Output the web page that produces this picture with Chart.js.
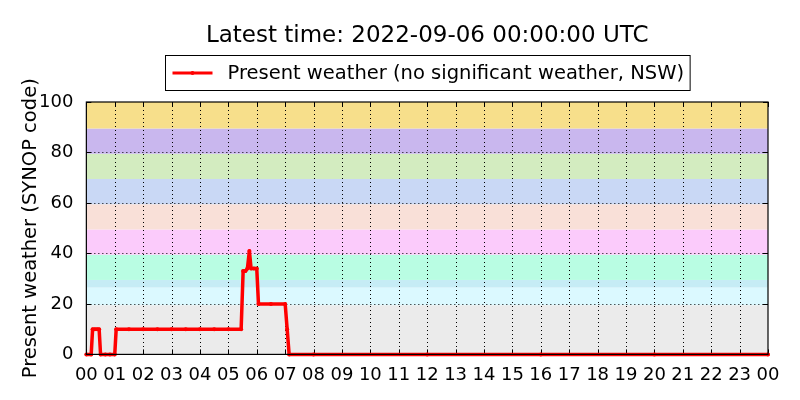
<!DOCTYPE html>
<html>
<head>
<meta charset="utf-8">
<script src="https://cdn.jsdelivr.net/npm/chart.js@4.4.0/dist/chart.umd.min.js"></script>
<style>
  html, body { margin: 0; padding: 0; background: #fff; }
  #wrap { width: 800px; height: 400px; }
</style>
</head>
<body>
<div id="wrap"><canvas id="chart1"></canvas></div>
<script>
"use strict";

// observation times (hours since 00 UTC) and SYNOP ww codes
var hours = [0, 0.17, 0.22, 0.3, 0.38, 0.45, 0.5, 0.67, 0.83, 1.0, 1.05, 1.5, 2.0, 2.5, 3.0, 3.5, 4.0, 4.5, 5.0, 5.45, 5.52, 5.6, 5.67, 5.74, 5.8, 5.9, 6.0, 6.06, 6.5, 7.0, 7.07, 7.14, 8.0, 12.0, 16.0, 20.0, 24.0];
var codes = [0, 0, 10, 10, 10, 10, 0, 0, 0, 0, 10, 10, 10, 10, 10, 10, 10, 10, 10, 10, 33, 33, 34, 41, 34, 34, 34, 20, 20, 20, 10, 0, 0, 0, 0, 0, 0];

// y ticks
var yTicks = [0, 20, 40, 60, 80, 100];

// SYNOP code bands (lower/upper edges) and fill colours
var bandLow  = [0, 19.5, 26.5, 29.5, 39.5, 49.5, 59.5, 69.5, 79.5, 89.5];
var bandHigh = [19.5, 26.5, 29.5, 39.5, 49.5, 59.5, 69.5, 79.5, 89.5, 100];
var bandColors = ["#ebebeb", "#dbf9ff", "#c6ecf5", "#b9fde3", "#fbcbfb", "#f9e0d8", "#c9d8f5", "#d3ecc0", "#c9b7ee", "#f7df8b"];

var titleText = "Latest time: 2022-09-06 00:00:00 UTC";
var legendText = "Present weather (no significant weather, NSW)";
var yTitleText = "Present weather (SYNOP code)";

var points = hours.map(function(h, i) { return { x: h, y: codes[i] }; });

// coloured bands behind the data
var bandsPlugin = {
  id: 'bands',
  beforeDatasetsDraw: function(chart) {
    var ctx = chart.ctx, a = chart.chartArea, y = chart.scales.y;
    ctx.save();
    for (var i = 0; i < bandColors.length; i++) {
      var top = y.getPixelForValue(bandHigh[i]);
      var bot = y.getPixelForValue(bandLow[i]);
      ctx.fillStyle = bandColors[i];
      ctx.fillRect(a.left, top, a.right - a.left, bot - top);
    }
    ctx.restore();
  }
};

// grid on top of bands, frame, titles, legend box
var framePlugin = {
  id: 'frame',
  beforeDatasetsDraw: function(chart) {
    var ctx = chart.ctx, a = chart.chartArea;
    var xs = chart.scales.x, ys = chart.scales.y;
    ctx.save();
    ctx.strokeStyle = "#000";
    ctx.lineWidth = 1;
    ctx.setLineDash([1, 3]);
    ctx.beginPath();
    for (var h = 1; h < 24; h++) {
      var px = Math.round(xs.getPixelForValue(h)) + 0.5;
      ctx.moveTo(px, a.top); ctx.lineTo(px, a.bottom);
    }
    yTicks.forEach(function(v) {
      if (v === 0 || v === 100) return;
      var py = Math.round(ys.getPixelForValue(v)) + 0.5;
      ctx.moveTo(a.left, py); ctx.lineTo(a.right, py);
    });
    ctx.stroke();
    ctx.setLineDash([]);
    // inward ticks
    ctx.beginPath();
    for (var h2 = 0; h2 <= 24; h2++) {
      var tx = Math.round(xs.getPixelForValue(h2)) + 0.5;
      ctx.moveTo(tx, a.bottom); ctx.lineTo(tx, a.bottom - 5);
      ctx.moveTo(tx, a.top); ctx.lineTo(tx, a.top + 5);
    }
    yTicks.forEach(function(v) {
      var ty = Math.round(ys.getPixelForValue(v)) + 0.5;
      ctx.moveTo(a.left, ty); ctx.lineTo(a.left + 5, ty);
      ctx.moveTo(a.right, ty); ctx.lineTo(a.right - 5, ty);
    });
    ctx.stroke();
    ctx.restore();
  },
  afterDraw: function(chart) {
    var ctx = chart.ctx, a = chart.chartArea;
    var cx = (a.left + a.right) / 2;
    ctx.save();
    ctx.strokeStyle = "#000";
    ctx.lineWidth = 1.2;
    ctx.strokeRect(a.left, a.top, a.right - a.left, a.bottom - a.top);

    // title
    ctx.fillStyle = "#000";
    ctx.textAlign = "center";
    ctx.textBaseline = "middle";
    ctx.font = "23px 'DejaVu Sans'";
    ctx.fillText(titleText, cx, 36);

    // y axis title
    ctx.save();
    ctx.translate(31, (a.top + a.bottom) / 2);
    ctx.rotate(-Math.PI / 2);
    ctx.font = "19.5px 'DejaVu Sans'";
    ctx.fillText(yTitleText, 0, 0);
    ctx.restore();

    // legend
    ctx.textAlign = "left";
    ctx.font = "19.5px 'DejaVu Sans'";
    var tw = ctx.measureText(legendText).width;
    var bw = tw + 68, bh = 35;
    var bx = Math.round(cx - bw / 2) + 0.5, by = 55.5;
    ctx.fillStyle = "#fff";
    ctx.fillRect(bx, by, bw, bh);
    ctx.lineWidth = 1;
    ctx.strokeRect(bx, by, bw, bh);
    ctx.strokeStyle = "#ff0000";
    ctx.lineWidth = 3;
    ctx.beginPath();
    ctx.moveTo(bx + 7, by + bh / 2); ctx.lineTo(bx + 47, by + bh / 2);
    ctx.stroke();
    ctx.fillStyle = "#ff0000";
    ctx.beginPath();
    ctx.arc(bx + 27, by + bh / 2, 2, 0, Math.PI * 2);
    ctx.fill();
    ctx.fillStyle = "#000";
    ctx.fillText(legendText, bx + 62, by + bh / 2 + 1);
    ctx.restore();
  }
};

var ctx = document.getElementById('chart1').getContext('2d');

var myChart = new Chart(ctx, {
  type: 'line',
  data: {
    datasets: [{
      label: legendText,
      data: points,
      borderColor: "#ff0000",
      backgroundColor: "#ff0000",
      borderWidth: 3.5,
      borderJoinStyle: 'round',
      borderCapStyle: 'round',
      pointRadius: 2,
      pointBorderWidth: 0,
      pointHoverRadius: 2,
      tension: 0,
      fill: false,
      clip: false
    }]
  },
  options: {
    responsive: true,
    maintainAspectRatio: false,
    animation: false,
    layout: {
      padding: { left: 34, right: 32, top: 102, bottom: 12 }
    },
    plugins: {
      legend: { display: false },
      tooltip: { enabled: false },
      title: { display: false }
    },
    scales: {
      x: {
        type: 'linear',
        min: 0,
        max: 24,
        grid: { display: false },
        border: { display: false },
        ticks: {
          stepSize: 1,
          autoSkip: false,
          maxRotation: 0,
          color: "#000",
          padding: 2,
          font: { family: "'DejaVu Sans'", size: 18 },
          callback: function(v) { return String(v % 24).padStart(2, '0'); }
        }
      },
      y: {
        min: 0,
        max: 100,
        grid: { display: false },
        border: { display: false },
        afterBuildTicks: function(axis) {
          axis.ticks = yTicks.map(function(v) { return { value: v }; });
        },
        ticks: {
          color: "#000",
          padding: 5,
          font: { family: "'DejaVu Sans'", size: 18 }
        },
        title: { display: false }
      }
    }
  },
  plugins: [bandsPlugin, framePlugin]
});
</script>
</body>
</html>
